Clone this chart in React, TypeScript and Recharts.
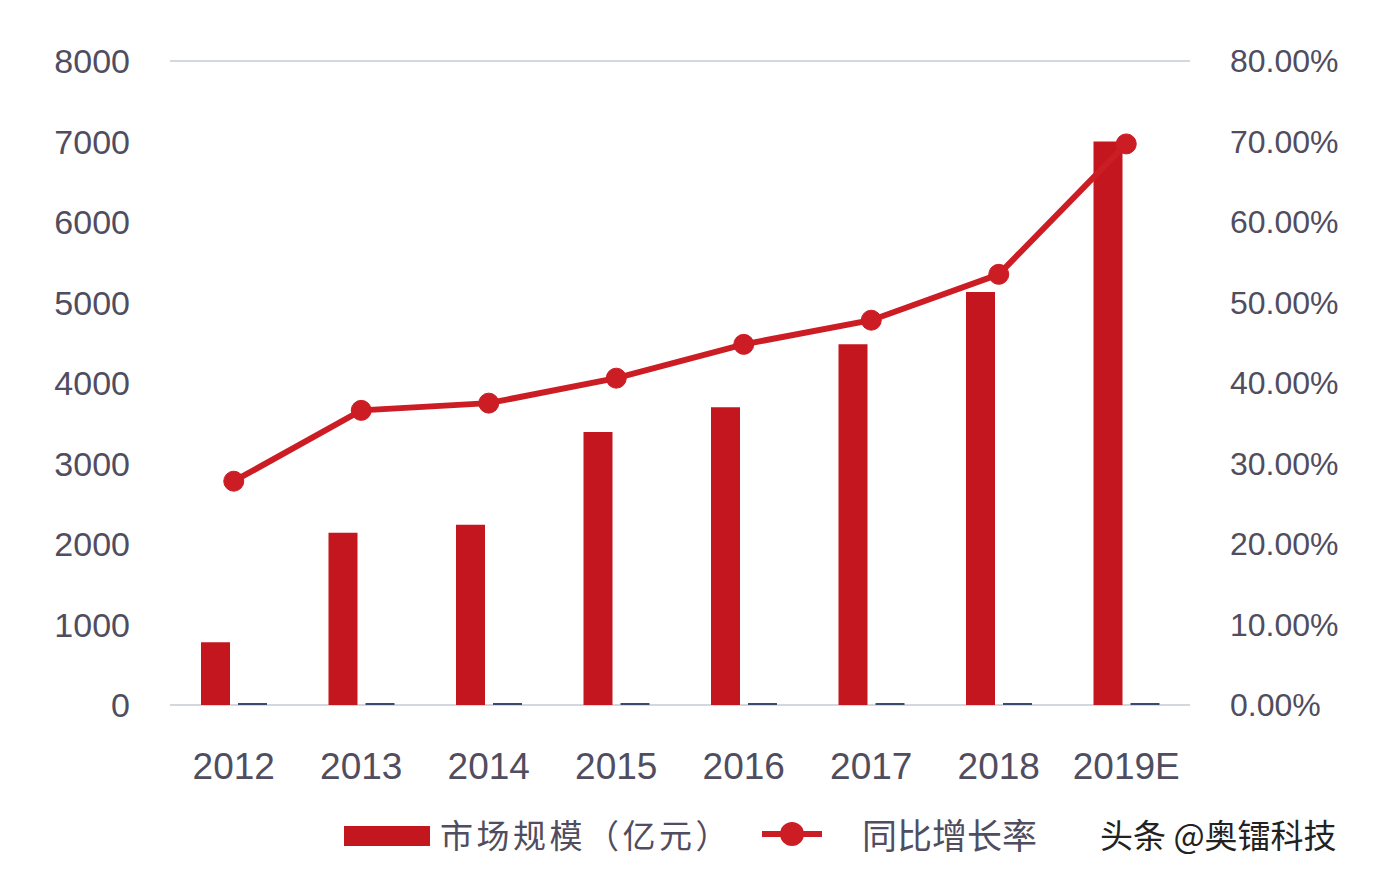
import { ComposedChart, Bar, Line, XAxis, YAxis, CartesianGrid } from "recharts";

const years = ["2012", "2013", "2014", "2015", "2016", "2017", "2018", "2019E"];
const marketSize = [780, 2140, 2240, 3390, 3700, 4480, 5130, 7000];
const growthRate = [27.8, 36.6, 37.5, 40.6, 44.8, 47.8, 53.5, 69.7];
const leftTicks = [0, 1000, 2000, 3000, 4000, 5000, 6000, 7000, 8000];
const rightTicks = [0, 10, 20, 30, 40, 50, 60, 70, 80];

const RED = "#c4161e";
const LINE_RED = "#cc1c24";
const TEXT = "#504d60";
const FONT = "'Liberation Sans', Arial, sans-serif";
const CJK = "'Noto Sans CJK SC', sans-serif";

const data = years.map((y, i) => ({
  year: y,
  size: marketSize[i],
  rateBar: growthRate[i] / 100,
  rate: growthRate[i],
}));

export default function App() {
  return (
    <div style={{ position: "absolute", left: 0, top: 0, width: 1378, height: 876, background: "#fff" }}>
      <ComposedChart
        width={1378}
        height={876}
        data={data}
        barGap={8}
        margin={{ top: 61, right: 0, bottom: 0, left: 0 }}
      >
        <CartesianGrid vertical={false} stroke="#c5cbd3" strokeWidth={1.5} />
        <XAxis
          dataKey="year"
          height={171}
          axisLine={false}
          tickLine={false}
          tickSize={0}
          tickMargin={48}
          tick={{ fill: TEXT, fontSize: 37, fontFamily: FONT }}
        />
        <YAxis
          yAxisId="left"
          width={170}
          domain={[0, 8000]}
          ticks={leftTicks}
          axisLine={false}
          tickLine={false}
          tickSize={0}
          tickMargin={40}
          tick={{ fill: TEXT, fontSize: 34, fontFamily: FONT }}
        />
        <YAxis
          yAxisId="right"
          orientation="right"
          width={188}
          domain={[0, 80]}
          ticks={rightTicks}
          axisLine={false}
          tickLine={false}
          tickSize={0}
          tickMargin={40}
          tickFormatter={(v: number) => `${v.toFixed(2)}%`}
          tick={{ fill: TEXT, fontSize: 32, fontFamily: FONT, textAnchor: "start" }}
        />
        <Bar yAxisId="left" dataKey="size" fill={RED} barSize={29} isAnimationActive={false} />
        <Bar
          yAxisId="left"
          dataKey="rateBar"
          fill="#3b4a6e"
          barSize={29}
          minPointSize={2}
          legendType="none"
          isAnimationActive={false}
        />
        <Line
          yAxisId="right"
          type="linear"
          dataKey="rate"
          stroke={LINE_RED}
          strokeWidth={6}
          dot={{ r: 10, fill: LINE_RED, stroke: LINE_RED, strokeWidth: 1 }}
          isAnimationActive={false}
        />
      </ComposedChart>
      <div
        style={{
          position: "absolute",
          top: 812,
          left: 0,
          width: 1378,
          height: 44,
          fontFamily: CJK,
          color: TEXT,
        }}
      >
        <div style={{ position: "absolute", left: 344, top: 14, width: 86, height: 20, background: RED }} />
        <div
          style={{
            position: "absolute",
            left: 440,
            top: 0,
            fontSize: 33,
            letterSpacing: 3.5,
            lineHeight: "44px",
            whiteSpace: "nowrap",
          }}
        >
          市场规模（亿元）
        </div>
        <div style={{ position: "absolute", left: 762, top: 19, width: 60, height: 6, background: LINE_RED }} />
        <div
          style={{
            position: "absolute",
            left: 780,
            top: 10,
            width: 24,
            height: 24,
            borderRadius: 12,
            background: LINE_RED,
          }}
        />
        <div style={{ position: "absolute", left: 862, top: 0, fontSize: 35, lineHeight: "44px", whiteSpace: "nowrap" }}>
          同比增长率
        </div>
        <div
          style={{
            position: "absolute",
            left: 1100,
            top: 0,
            fontSize: 33,
            lineHeight: "44px",
            whiteSpace: "nowrap",
            color: "#222",
          }}
        >
          头条 @奥镭科技
        </div>
      </div>
    </div>
  );
}
